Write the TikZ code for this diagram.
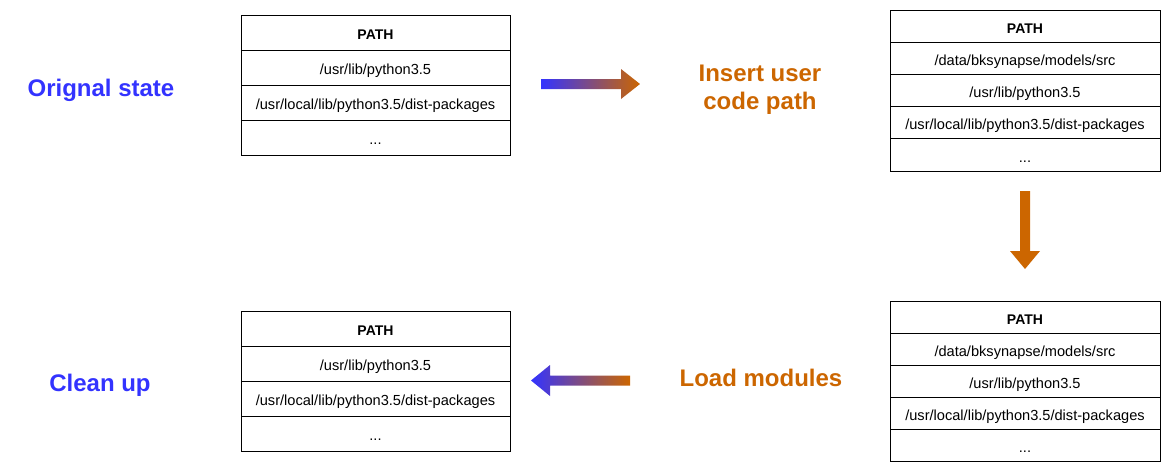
\documentclass[tikz,border=0pt]{standalone}
\usepackage{fontspec}
\setmainfont{Liberation Sans}
\usetikzlibrary{positioning}

\definecolor{stateblue}{HTML}{3333FF}
\definecolor{steporange}{HTML}{CC6600}
\newcommand{\pathdots}{...}

\tikzset{
    cell/.style={draw, line width=1pt, outer sep=0pt, inner sep=0pt,
        text height=14.5pt, text depth=0pt,
        font=\fontsize{14.6}{17}\selectfont},
    widecell/.style={cell, minimum width=269pt, minimum height=35pt},
    tallcell/.style={cell, minimum width=270pt, minimum height=32.2pt},
    caption/.style={font=\fontsize{24}{28}\selectfont\bfseries, align=center},
}

\begin{document}
\begin{tikzpicture}[x=1pt, y=-1pt]
    \path[use as bounding box] (0,0) rectangle (1171,471);

    % original state
    \node[widecell, font=\fontsize{14}{17}\selectfont\bfseries] (orig0) at (375.5,32.5) {PATH};
    \foreach \txt [count=\i] in {/usr/lib/python3.5, /usr/local/lib/python3.5/dist-packages, \pathdots}
        \node[widecell] (orig\i) at (375.5,32.5+35*\i) {\txt};

    % after insert
    \node[tallcell, font=\fontsize{14}{17}\selectfont\bfseries] (ins0) at (1025,26.1) {PATH};
    \foreach \txt [count=\i] in {/data/bksynapse/models/src, /usr/lib/python3.5, /usr/local/lib/python3.5/dist-packages, \pathdots}
        \node[tallcell] (ins\i) at (1025,26.1+32.2*\i) {\txt};

    % loaded
    \node[tallcell, minimum height=32pt, font=\fontsize{14}{17}\selectfont\bfseries] (load0) at (1025,317) {PATH};
    \foreach \txt [count=\i] in {/data/bksynapse/models/src, /usr/lib/python3.5, /usr/local/lib/python3.5/dist-packages, \pathdots}
        \node[tallcell, minimum height=32pt] (load\i) at (1025,317+32*\i) {\txt};

    % cleaned up
    \node[widecell, font=\fontsize{14}{17}\selectfont\bfseries] (clean0) at (375.5,328.5) {PATH};
    \foreach \txt [count=\i] in {/usr/lib/python3.5, /usr/local/lib/python3.5/dist-packages, \pathdots}
        \node[widecell] (clean\i) at (375.5,328.5+35*\i) {\txt};

    % block arrows
    \shade[left color=stateblue, right color=steporange]
        (541,79) -- (621,79) -- (621,69) -- (640,84) -- (621,99) -- (621,89) -- (541,89) -- cycle;
    \fill[steporange]
        (1020,191) -- (1030,191) -- (1030,251) -- (1040,251) -- (1025,269) -- (1010,251) -- (1020,251) -- cycle;
    \shade[left color=stateblue, right color=steporange]
        (630,375.5) -- (550,375.5) -- (550,365) -- (531,380.5) -- (550,396) -- (550,385.5) -- (630,385.5) -- cycle;

    \node[caption, text=stateblue]  (origlabel)  at (101,90)  {Orignal state};
    \node[caption, text=steporange] (inslabel)   at (760,90)  {Insert user\\code path};
    \node[caption, text=steporange] (loadlabel)  at (761,378) {Load modules};
    \node[caption, text=stateblue]  (cleanlabel) at (100,385) {Clean up};
\end{tikzpicture}
\end{document}
